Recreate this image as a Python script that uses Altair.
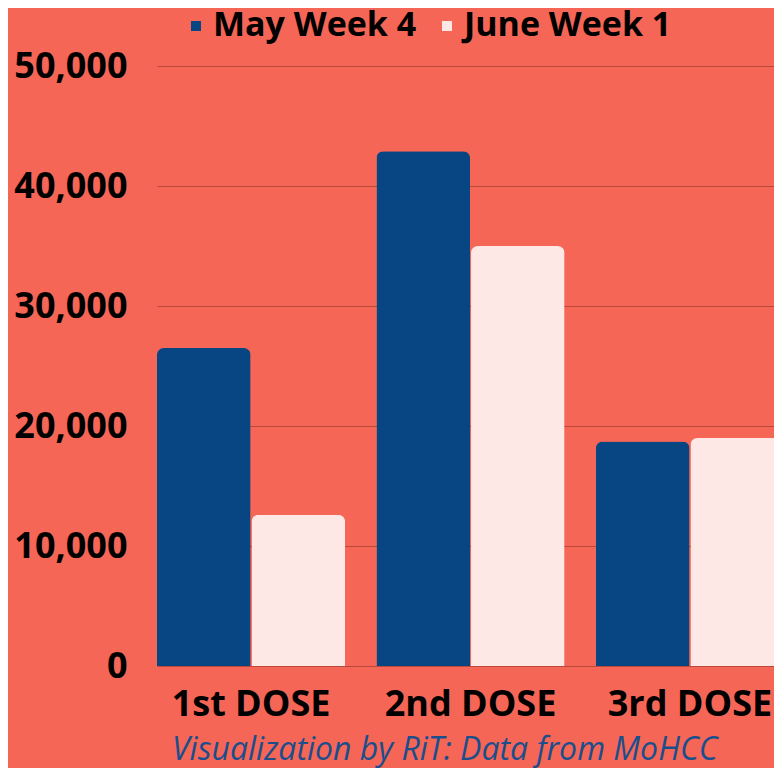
import altair as alt
import pandas as pd

doses = ["1st DOSE", "2nd DOSE", "3rd DOSE"]
series = ["May Week 4", "June Week 1"]
may_week4 = [26500, 42900, 18700]
june_week1 = [12600, 35000, 19000]

rows = []
for i, d in enumerate(doses):
    rows.append({"dose": d, "week": series[0], "value": may_week4[i]})
    rows.append({"dose": d, "week": series[1], "value": june_week1[i]})
df = pd.DataFrame(rows)

BG = "#F56656"
FONT = "Open Sans"

chart = alt.Chart(df).mark_bar(
    cornerRadiusTopLeft=7, cornerRadiusTopRight=7
).encode(
    x=alt.X("dose:N", sort=doses, title=None,
            scale=alt.Scale(paddingInner=0.143, paddingOuter=0, range=[0, 627]),
            axis=alt.Axis(labelAngle=0, labelFont=FONT, labelFontSize=36,
                          labelFontWeight="bold", labelColor="#000000",
                          labelPadding=21, ticks=False, domain=False,
                          labelLimit=0)),
    xOffset=alt.XOffset("week:N", sort=series,
                        scale=alt.Scale(paddingInner=0.01)),
    y=alt.Y("value:Q", title=None,
            scale=alt.Scale(domain=[0, 50000]),
            axis=alt.Axis(values=[0, 10000, 20000, 30000, 40000, 50000],
                          format=",.0f", labelFont=FONT, labelFontSize=36,
                          labelFontWeight="bold", labelColor="#000000",
                          labelPadding=30, ticks=False, domain=False,
                          gridColor="#B9483D", gridWidth=1)),
    color=alt.Color("week:N", sort=series,
                    scale=alt.Scale(domain=series, range=["#074683", "#FEE8E6"]),
                    legend=alt.Legend(title=None, orient="none", direction="horizontal",
                                      legendX=22, legendY=-57,
                                      symbolType="square", symbolSize=100,
                                      symbolStrokeWidth=0, labelLimit=0,
                                      labelFont=FONT, labelFontSize=34,
                                      labelFontWeight="bold", labelColor="#000000",
                                      columnPadding=13, labelOffset=0)),
).properties(
    width=617,
    height=600,
    background=BG,
    padding={"left": 149, "top": 58, "right": 0, "bottom": 102},
    autosize=alt.AutoSizeParams(type="none"),
    title=alt.TitleParams(
        "Visualization by RiT: Data from MoHCC",
        orient="bottom", anchor="start", frame="group", dx=15, offset=13,
        font=FONT, fontSize=32, fontStyle="italic", fontWeight="normal",
        color="#1B4E8C",
    ),
).configure_view(stroke=None)

chart.save("out.html", embed_options={"renderer": "svg", "actions": False})
